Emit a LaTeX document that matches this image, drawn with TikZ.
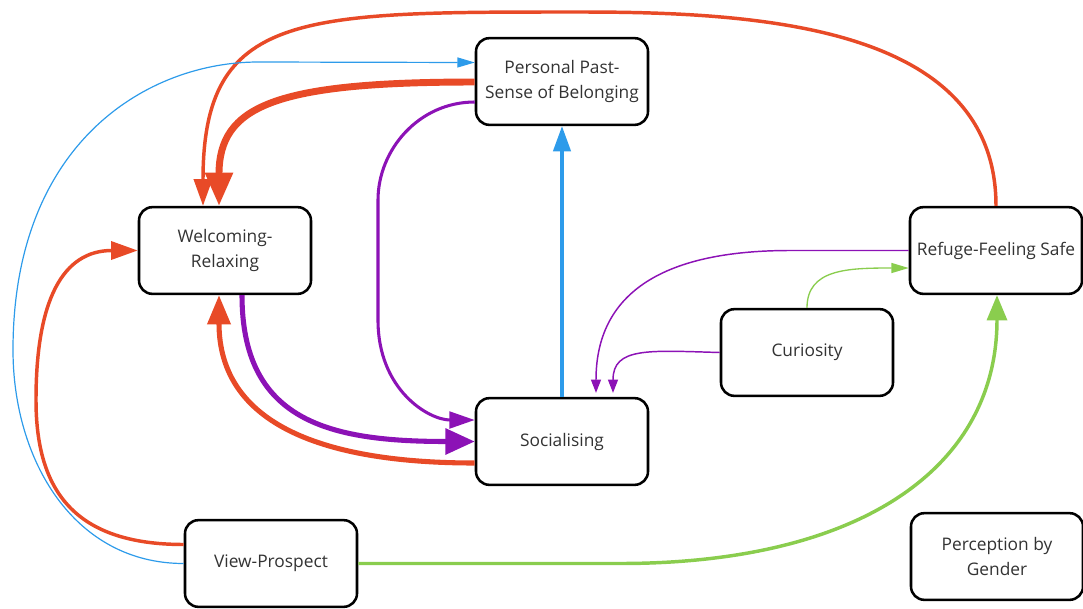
\documentclass[tikz,border=0pt]{standalone}
\usepackage{fontspec}
\setmainfont{Open Sans}
\usetikzlibrary{arrows.meta,calc}

\definecolor{lineOrange}{RGB}{232,74,39}
\definecolor{lineBlue}{RGB}{45,155,234}
\definecolor{linePurple}{RGB}{140,18,182}
\definecolor{lineGreen}{RGB}{138,205,78}
\definecolor{textGray}{RGB}{51,51,51}

\begin{document}
\begin{tikzpicture}[x=0.75pt,y=0.75pt,yscale=-1,xscale=1,
  box/.style={draw=black,line width=1.9pt,rounded corners=10pt,fill=white,
    minimum width=129pt,minimum height=65pt,inner sep=2pt,align=center,
    text=textGray,font=\fontsize{13}{18.5}\selectfont},
  tipped/.style 2 args={-{Triangle[length=#1,width=#2]}}]
\useasboundingbox (0,0) rectangle (1083,608);

%Shape: Rounded Rect
\node [box] (pp) at (562,81.5) {Personal Past-\\Sense of Belonging};
\node [box] (wr) at (225,250.5) {Welcoming-\\Relaxing};
\node [box] (rf) at (996,250.5) {Refuge-Feeling Safe};
\node [box] (cu) at (807,352.5) {Curiosity};
\node [box] (so) at (562,441.5) {Socialising};
\node [box] (vp) at (271,563.5) {View-Prospect};
\node [box] (pg) at (997,556.5) {Perception by\\Gender};

% bend points of the long curves
\coordinate (ttop) at (580,12);
\coordinate (lw1) at (36,400);
\coordinate (lw2) at (13,350);
\coordinate (lw3) at (258,62);
\coordinate (pv1) at (378,200);
\coordinate (pv2) at (378,320);
\coordinate (rp1) at (790,250.5);
\coordinate (gp1) at (620,563.5);

%Curve Lines: orange
\draw [lineOrange,line width=2.6pt,tipped={20pt}{13.5pt}] (rf.north) .. controls +(0,-180) and +(180,0) .. (ttop) .. controls +(-280,0) and +(0,-195) .. ($(wr.north)+(-22,0)$);
\draw [lineOrange,line width=5.2pt,tipped={25pt}{20pt}] ($(pp.west)+(0,0.5)$) .. controls +(-200,0) and +(0,-100) .. ($(wr.north)+(-6,0)$);
\draw [lineOrange,line width=2.6pt,tipped={20pt}{13.5pt}] ($(vp.west)+(0,-19)$) .. controls +(-110,0) and +(0,90) .. (lw1) .. controls +(0,-100) and +(-75,0) .. (wr.west);
\draw [lineOrange,line width=3.8pt,tipped={22pt}{17pt}] ($(so.west)+(0,21.5)$) .. controls +(-150,0) and +(0,130) .. ($(wr.south)+(-6,0)$);

%Curve Lines: blue
\draw [lineBlue,line width=0.9pt,tipped={13pt}{7.5pt}] (vp.west) .. controls +(-110,0) and +(0,110) .. (lw2) .. controls +(0,-210) and +(-108,0) .. (lw3) -- ($(pp.west)+(0,-19)$);
\draw [lineBlue,line width=2.6pt,tipped={19pt}{13pt}] (so.north) -- (pp.south);

%Curve Lines: purple
\draw [linePurple,line width=2.3pt,tipped={19pt}{12.5pt}] ($(pp.west)+(0,20.5)$) .. controls +(-56,0) and +(0,-50) .. (pv1) -- (pv2) .. controls +(0,70) and +(-46,0) .. ($(so.west)+(0,-21.5)$);
\draw [linePurple,line width=3.8pt,tipped={22pt}{19pt}] ($(wr.south)+(17,0)$) .. controls +(0,126) and +(-146,0) .. (so.west);
\draw [linePurple,line width=1.1pt,tipped={10pt}{7.5pt},shorten >=3pt] (rf.west) -- (rp1) .. controls +(-140,0) and +(0,-95) .. ($(so.north)+(34,0)$);
\draw [linePurple,line width=1.1pt,tipped={10pt}{7.5pt},shorten >=3pt] (cu.west) .. controls +(-71,-2) and +(0,-50) .. ($(so.north)+(51,0)$);

%Curve Lines: green
\draw [lineGreen,line width=1pt,tipped={13pt}{7.5pt}] (cu.north) .. controls +(0,-39) and +(-61,0) .. ($(rf.west)+(0,17.5)$);
\draw [lineGreen,line width=2.6pt,tipped={19pt}{15pt}] (vp.east) -- (gp1) .. controls +(240,0) and +(0,173) .. ($(rf.south)+(1,0)$);

\end{tikzpicture}
\end{document}
